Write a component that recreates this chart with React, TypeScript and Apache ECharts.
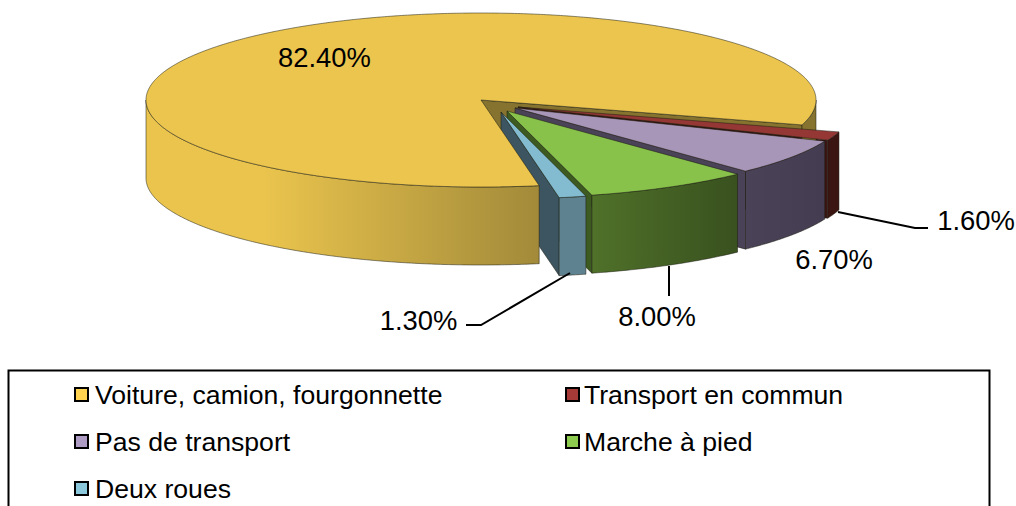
import React, { useEffect, useRef } from "react";
import * as echarts from "echarts";

const categories = ["Voiture, camion, fourgonnette", "Transport en commun", "Pas de transport", "Marche à pied", "Deux roues"];
const values = [82.4, 1.6, 6.7, 8.0, 1.3];

const topColors = ["#ECC54E", "#953735", "#A896B9", "#88C24B", "#83BCD1"];
const wallColors = ["#85732F", "#3A1512", "#4A4257", "#3D5A20", "#3C5560"];
const sideLeft = ["#EAC44D", "#3A1512", "#4A4257", "#4F7129", "#5E8290"];
const sideRight = ["#A28A3A", "#3A1512", "#443C50", "#39511F", "#5E8290"];
const legendColors = ["#FFD34F", "#A53A37", "#AF9CC5", "#8ECC4F", "#8CC8DC"];
const offsetX = [0, 37, 34, 26, 20];
const offsetY = [0, 7, 8, 11, 12];

const CX = 481, CY = 100, RX = 335, RY = 87, DEPTH = 78;
const START_DEG = 80;
const EDGE = "rgba(30,30,20,0.75)";

const total = values.reduce((a, b) => a + b, 0);
const rad = (d: number) => (d * Math.PI) / 180;

function sliceAngles(i: number) {
  let s = START_DEG;
  for (let k = 0; k < i; k++) s += (values[k] / total) * 360;
  return [s, s + (values[i] / total) * 360];
}

function pt(t: number, ox: number, oy: number, dz: number) {
  return [CX + ox + RX * Math.cos(rad(t)), CY + oy + RY * Math.sin(rad(t)) + dz];
}

function arc(t0: number, t1: number, ox: number, oy: number, dz: number) {
  const n = Math.max(2, Math.ceil(Math.abs(t1 - t0) * 2));
  const out: number[][] = [];
  for (let k = 0; k <= n; k++) out.push(pt(t0 + ((t1 - t0) * k) / n, ox, oy, dz));
  return out;
}

// Parts of [t0,t1] facing the viewer (the front half of the ellipse).
function visibleRanges(t0: number, t1: number) {
  const r: number[][] = [];
  for (const base of [0, 360]) {
    const a = Math.max(t0, base);
    const b = Math.min(t1, base + 180);
    if (b > a) r.push([a, b]);
  }
  return r;
}

const poly = (points: number[][], z2: number, style: any) => ({ type: "polygon", silent: true, z2, shape: { points }, style });

function sideFill(i: number, x0: number, x1: number, knee: number) {
  return new echarts.graphic.LinearGradient(x0, 0, x1, 0, [
    { offset: 0, color: sideLeft[i] },
    { offset: knee, color: sideLeft[i] },
    { offset: 1, color: sideRight[i] },
  ], true);
}

const labelText = [
  { x: 324.5, y: 57, line: null },
  { x: 976, y: 220, line: [[838, 212], [915, 228], [928, 228]] },
  { x: 834, y: 259, line: null },
  { x: 657, y: 316, line: [[669, 266], [669, 296]] },
  { x: 418.5, y: 320, line: [[570, 273], [481, 325], [466, 325]] },
];

// Paint order: all cut faces first, then the rims and top surfaces, slice after slice.
function renderSlice(i: number) {
  return (_params: any, api: any) => {
    const [t0, t1] = sliceAngles(i);
    const ox = offsetX[i], oy = offsetY[i];
    const apex = [CX + ox, CY + oy];
    const children: any[] = [];

    const w = pt(t1, ox, oy, 0);
    const wb = pt(t1, ox, oy, DEPTH);
    children.push(poly([apex, w, wb, [apex[0], apex[1] + DEPTH]], 1 + i, { fill: wallColors[i], stroke: EDGE, lineWidth: 0.7 }));

    const bodyZ = 10 + i * 2;
    for (const [a, b] of visibleRanges(t0, t1)) {
      const top = arc(a, b, ox, oy, 0);
      const bottom = arc(b, a, ox, oy, DEPTH);
      const xs = top.map((p) => p[0]);
      const fill = i === 0
        ? (a >= 360 ? wallColors[0] : sideFill(0, 146, 539, 0.3))
        : sideFill(i, Math.min(...xs), Math.max(...xs), 0);
      children.push(poly([...top, ...bottom], bodyZ, { fill, stroke: EDGE, lineWidth: 0.7 }));
    }

    children.push(poly([apex, ...arc(t0, t1, ox, oy, 0)], bodyZ + 1, { fill: topColors[i], stroke: EDGE, lineWidth: 0.7 }));

    const lab = labelText[i];
    if (lab.line) {
      children.push({ type: "polyline", silent: true, z2: 30, shape: { points: lab.line }, style: { stroke: "#000", lineWidth: 2, fill: "none" } });
    }
    children.push({
      type: "text", silent: true, z2: 31, x: lab.x, y: lab.y,
      style: {
        text: api.value(0).toFixed(2) + "%",
        fill: "#000", fontSize: 27.4, fontFamily: "Liberation Sans",
        align: "center", verticalAlign: "middle",
      },
    });
    return { type: "group", children };
  };
}

const legendItem = (i: number) => ({
  name: categories[i],
  icon: "rect",
  itemStyle: { color: legendColors[i], borderColor: "#000", borderWidth: 2 },
});

const legendBase = {
  orient: "vertical",
  selectedMode: false,
  itemWidth: 13,
  itemHeight: 13,
  itemGap: 20,
  padding: 0,
};
const legendFont = { color: "#000", fontSize: 26.6, fontFamily: "Liberation Sans" };

export default function App() {
  const ref = useRef<HTMLDivElement>(null);
  useEffect(() => {
    const chart = echarts.init(ref.current!, null, { renderer: "svg" });
    chart.setOption({
      animation: false,
      backgroundColor: "#fff",
      legend: [
        { ...legendBase, left: 74, top: 381, textStyle: { ...legendFont, padding: [0, 0, 0, 2] }, data: [0, 2, 4].map(legendItem) },
        { ...legendBase, left: 565, top: 381, textStyle: { ...legendFont, padding: 0 }, data: [1, 3].map(legendItem) },
      ],
      graphic: [{
        type: "rect", silent: true,
        shape: { x: 8.5, y: 370.5, width: 981, height: 200 },
        style: { fill: "none", stroke: "#000", lineWidth: 2 },
      }],
      series: categories.map((name, i) => ({
        type: "custom",
        name,
        coordinateSystem: "none",
        silent: true,
        itemStyle: { color: legendColors[i] },
        data: [[values[i]]],
        renderItem: renderSlice(i),
      })),
    });
    return () => chart.dispose();
  }, []);
  return <div ref={ref} style={{ position: "absolute", left: 0, top: 0, width: 1016, height: 506 }} />;
}
